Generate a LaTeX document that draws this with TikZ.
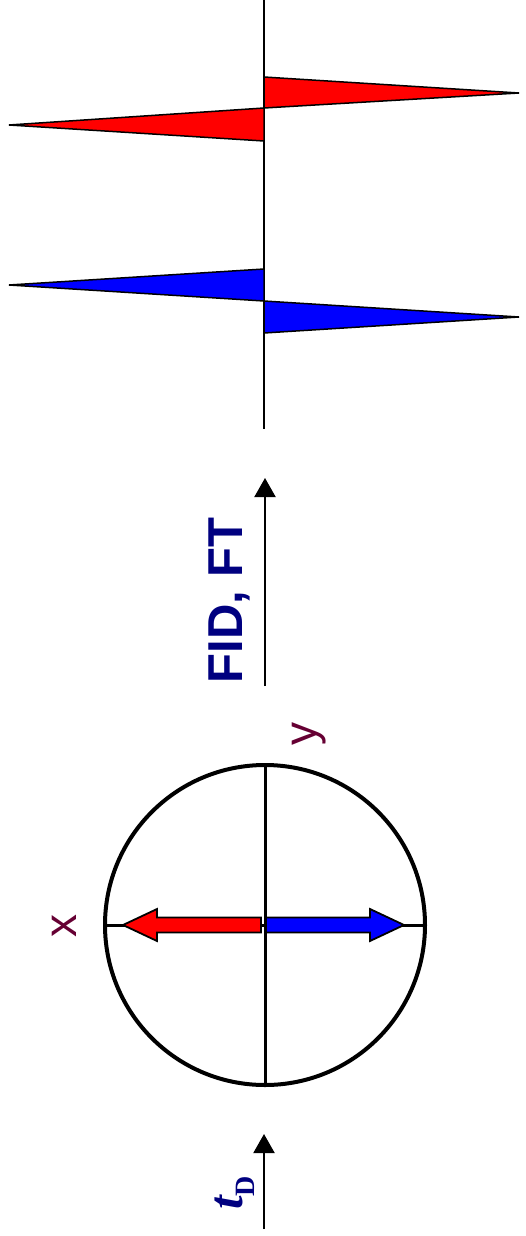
\documentclass[tikz,border=0pt]{standalone}
\usepackage{fontspec}
\setmainfont{Liberation Sans}
\newfontfamily\timesfont{Liberation Serif}
\usepackage{tikz}
\usetikzlibrary{arrows.meta, positioning}
\definecolor{navy}{RGB}{0,0,128}
\definecolor{plum}{RGB}{102,0,51}
\tikzstyle{axis}   = [line width=1.6pt]
\tikzstyle{arrow}  = [line width=2pt, -{Triangle[length=19pt,width=21pt]}]
\tikzstyle{label}  = [text=navy, font=\fontsize{49}{55}\selectfont\bfseries, rotate=90, anchor=base, inner sep=0pt]
\tikzstyle{vlabel} = [text=plum, font=\fontsize{46}{50}\selectfont, rotate=90, anchor=base, inner sep=0pt]
\tikzstyle{peak}   = [draw=black, line width=1.5pt]
\tikzstyle{vec}    = [draw=black, line width=1.8pt]

\begin{document}
\begin{tikzpicture}[x=1pt, y=-1pt]
    \useasboundingbox (0,0) rectangle (525,1236);

    % detection period
    \coordinate (t0) at (264,1229);
    \coordinate (t1) at (264,1134);
    \draw [arrow] (t0) -- (t1);
    \node (tD) [label, anchor=base west] at (242,1210)
        {{\timesfont\itshape t}\raisebox{-12pt}{\timesfont\fontsize{28}{30}\selectfont D}};

    % transverse plane
    \node (c) [circle, draw, line width=4pt, minimum size=320pt, inner sep=0pt, outer sep=0pt] at (265,925) {};
    \draw [line width=3pt] (c.north) -- (c.south);
    \draw [line width=3pt] (c.west) -- (c.east);
    \begin{scope}[shift={(c)}]
        \filldraw [vec, fill=red]  (-4,-7.5) -- (-108,-7.5) -- (-108,-16) -- (-142,0)
                                  -- (-108,16) -- (-108,7.5) -- (-4,7.5) -- cycle;
        \filldraw [vec, fill=blue] (1,-7.5) -- (105,-7.5) -- (105,-16) -- (139,0)
                                  -- (105,16) -- (105,7.5) -- (1,7.5) -- cycle;
    \end{scope}
    \node (lx) [vlabel] at (76,925.5)  {x};
    \node (ly) [vlabel] at (316,733.5) {y};

    % processing
    \coordinate (f0) at (265,686);
    \coordinate (f1) at (265,478);
    \draw [arrow] (f0) -- (f1);
    \node (fid) [label] at (242,600.5) {FID, FT};

    % spectrum
    \coordinate (s0) at (264,0);
    \coordinate (s1) at (264,429);
    \draw [axis] (s0) -- (s1);
    \filldraw [peak, fill=red]  (264,77) -- (519,93) -- (264,108) -- (9,125) -- (264,141) -- cycle;
    \filldraw [peak, fill=blue] (264,269) -- (9,285) -- (264,301) -- (519,317) -- (264,333) -- cycle;
\end{tikzpicture}
\end{document}
